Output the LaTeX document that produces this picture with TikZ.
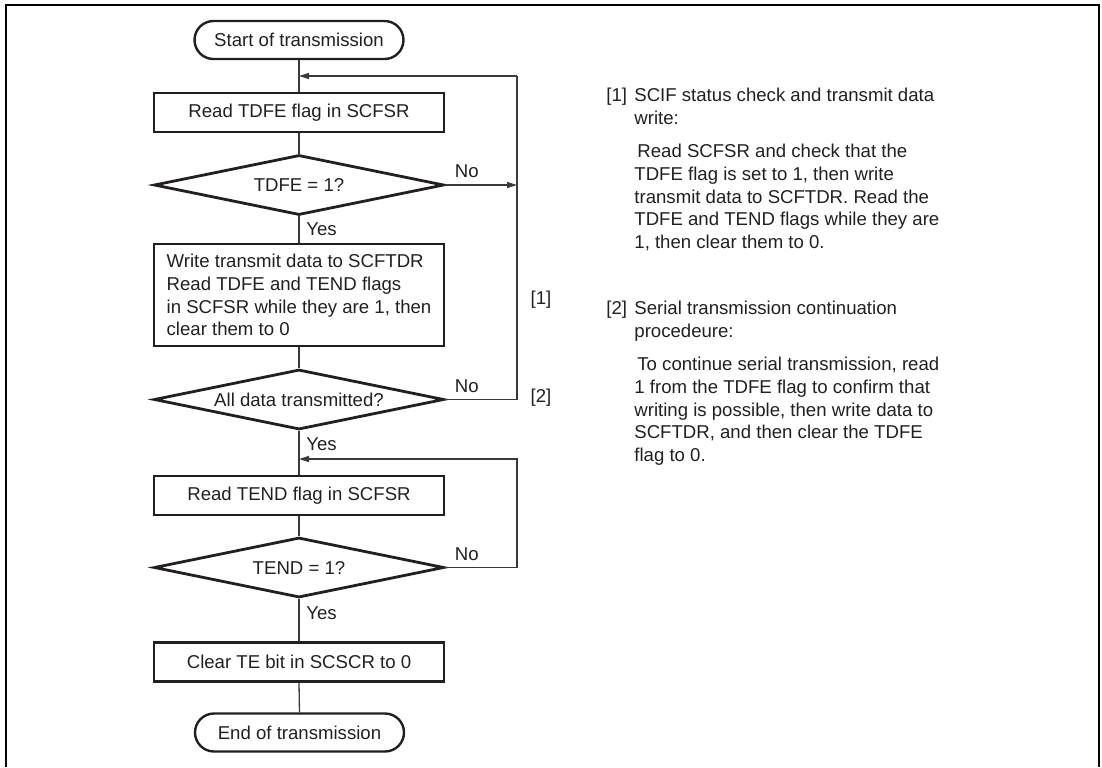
\documentclass[tikz,border=0pt]{standalone}
\usepackage{fontspec}
\setmainfont{Liberation Sans}
\definecolor{inkgray}{HTML}{231F20}
\definecolor{wiregray}{HTML}{3A3A3A}
\usetikzlibrary{arrows.meta, positioning, calc, shapes.geometric}

\begin{document}
\begin{tikzpicture}[x=0.5pt, y=-0.5pt,
  every node/.style={font=\fontsize{9.3}{11.35}\selectfont, text=inkgray},
  terminal/.style={draw=inkgray, line width=1.2pt, rounded corners=9.5pt, minimum width=104.5pt, minimum height=19pt},
  process/.style={draw=inkgray, line width=1.4pt, minimum width=145pt, minimum height=19.5pt},
  decision/.style={draw=inkgray, line width=1.4pt, diamond, aspect=4.83, minimum width=145pt, minimum height=30pt, inner sep=0pt},
  wire/.style={draw=wiregray, line width=0.65pt},
  arrow/.style={wire, -{Triangle[length=5pt, width=3pt]}},
  note/.style={anchor=north west, inner sep=0pt, align=left}]
  \useasboundingbox (0,0) rectangle (1102,767);
  \draw[line width=1pt] (6,767) -- (6,5) -- (1099,5) -- (1099,767);

  % flow chart
  \node[terminal] (start) at (299,40) {Start of transmission};
  \node[process] (rdtdfe) at (299,112.5) {Read TDFE flag in SCFSR};
  \node[decision] (tdfe) at (299,185) {TDFE = 1?};
  \node[process, align=left, minimum height=51pt] (wrdata) at (299,295)
    {Write transmit data to SCFTDR\\Read TDFE and TEND flags\\in SCFSR while they are 1, then\\clear them to 0};
  \node[decision] (alldone) at (299,399.5) {All data transmitted?};
  \node[process] (rdtend) at (299,495.5) {Read TEND flag in SCFSR};
  \node[decision] (tend) at (299,567.5) {TEND = 1?};
  \node[process] (clrte) at (299,662) {Clear TE bit in SCSCR to 0};
  \node[terminal] (finish) at (299.5,732.5) {End of transmission};

  \coordinate (loop1) at (517,76);
  \coordinate (loop2) at (517,459);

  \draw[wire] (start.south) -- (rdtdfe.north);
  \draw[arrow] (loop1) -- (start.south |- loop1);
  \draw[wire] (rdtdfe.south) -- (tdfe.north);
  \draw[arrow] (tdfe.east) -- node[above, pos=0.3] {No} (tdfe.east -| loop1);
  \draw[wire] (tdfe.south) -- node[right] {Yes} (wrdata.north);
  \draw[wire] (wrdata.south) -- (alldone.north);
  \draw[wire] (alldone.east) -- node[above, pos=0.3] {No} (alldone.east -| loop1) -- (loop1);
  \draw[wire] (alldone.south) -- node[right, pos=0.3] {Yes} (rdtend.north);
  \draw[arrow] (tend.east) -- node[above, pos=0.3] {No} (tend.east -| loop2) -- (loop2) -- (rdtend.north |- loop2);
  \draw[wire] (rdtend.south) -- (tend.north);
  \draw[wire] (tend.south) -- node[right, pos=0.35] {Yes} (clrte.north);
  \draw[wire] (clrte.south) -- (finish.north);

  \node (tag1) at (541,300) {[1]};
  \node (tag2) at (541,398) {[2]};

  % notes
  \node[note] (key1) at (606,88) {[1]};
  \node[note] (head1) at (634,88) {SCIF status check and transmit data\\write:};
  \node[note] (body1) at (634,144) {\hspace{1.5pt}Read SCFSR and check that the\\TDFE flag is set to 1, then write\\transmit data to SCFTDR. Read the\\TDFE and TEND flags while they are\\1, then clear them to 0.};
  \node[note] (key2) at (606,301) {[2]};
  \node[note] (head2) at (634,301) {Serial transmission continuation\\procedeure:};
  \node[note] (body2) at (634,357) {\hspace{1.5pt}To continue serial transmission, read\\1 from the TDFE flag to confirm that\\writing is possible, then write data to\\SCFTDR, and then clear the TDFE\\flag to 0.};
\end{tikzpicture}
\end{document}
